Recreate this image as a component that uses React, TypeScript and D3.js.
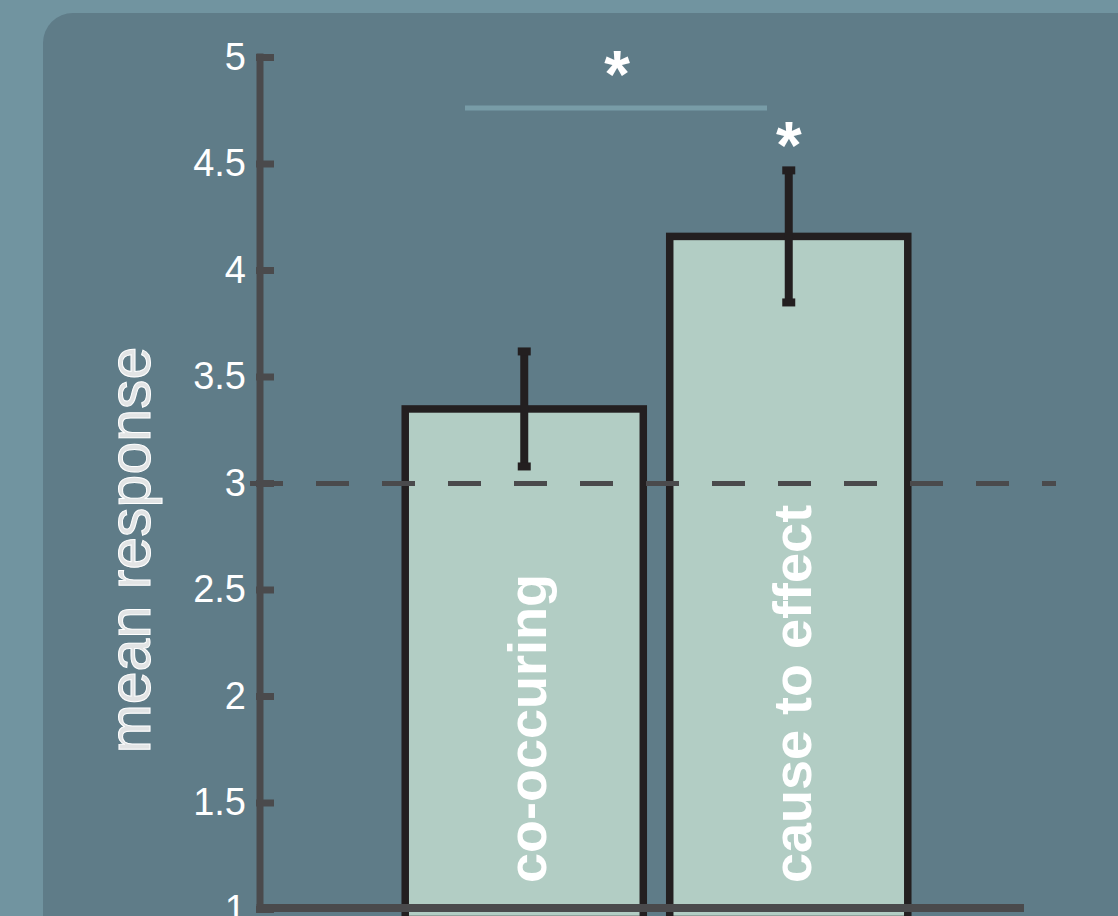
import React from "react";
import * as d3 from "d3";

// Conditions and their mean ratings with error half-widths
const categories = ["co-occuring", "cause to effect"];
const means = [3.35, 4.16];
const errors = [0.27, 0.31];
const significant = [false, true];
const yTicks = [1, 1.5, 2, 2.5, 3, 3.5, 4, 4.5, 5];
const yTickLabels = ["1", "1.5", "2", "2.5", "3", "3.5", "4", "4.5", "5"];
const baselineValue = 3;
const bracketValue = 4.763;

const W = 1118;
const H = 916;

export default function App() {
  const y = d3.scaleLinear().domain([1, 5]).range([909.5, 57.5]);
  const x = d3
    .scaleBand<string>()
    .domain(categories)
    .range([392, 921])
    .paddingInner(0.1)
    .paddingOuter(0.05);

  const axisX = 260;
  const font = "'Liberation Sans', Helvetica, Arial, sans-serif";
  const barStroke = "#231f20";
  const axisColor = "#4a4a4c";
  const bw = x.bandwidth();

  return (
    <svg
      width={W}
      height={H}
      style={{ position: "absolute", left: 0, top: 0, display: "block" }}
    >
      <rect x={0} y={0} width={W} height={H} fill="#7194a0" />
      <rect x={43} y={13} width={W + 100} height={H + 100} rx={30} ry={30} fill="#5f7c88" />

      {/* bars */}
      {categories.map((c, i) => {
        const x0 = x(c) as number;
        return (
          <rect
            key={c}
            x={x0}
            y={y(means[i])}
            width={bw}
            height={y(1) - y(means[i]) + 10}
            fill="#b2cdc4"
            stroke={barStroke}
            strokeWidth={7.5}
          />
        );
      })}

      {/* bar labels */}
      {categories.map((c, i) => {
        const cx = (x(c) as number) + bw / 2 + 22;
        const cy = 883;
        return (
          <text
            key={c + "-label"}
            transform={`translate(${cx},${cy}) rotate(-90)`}
            fill="#ffffff"
            fontFamily={font}
            fontWeight="bold"
            fontSize={54}
            textAnchor="start"
          >
            {c}
          </text>
        );
      })}

      {/* reference line at the scale midpoint */}
      <line
        x1={250}
        x2={1056}
        y1={y(baselineValue)}
        y2={y(baselineValue)}
        stroke={axisColor}
        strokeWidth={5}
        strokeDasharray="33,33"
      />

      {/* error bars */}
      {categories.map((c, i) => {
        const cx = (x(c) as number) + bw / 2;
        const top = y(means[i] + errors[i]);
        const bot = y(means[i] - errors[i]);
        return (
          <g key={c + "-err"} stroke={barStroke}>
            <line x1={cx} x2={cx} y1={top} y2={bot} strokeWidth={8} />
            <line x1={cx - 6.5} x2={cx + 6.5} y1={top} y2={top} strokeWidth={8} />
            <line x1={cx - 6.5} x2={cx + 6.5} y1={bot} y2={bot} strokeWidth={8} />
          </g>
        );
      })}

      {/* significance markers */}
      {categories.map((c, i) =>
        significant[i] ? (
          <text
            key={c + "-sig"}
            x={(x(c) as number) + bw / 2}
            y={y(means[i] + errors[i]) - 2}
            fill="#ffffff"
            fontFamily={font}
            fontWeight="bold"
            fontSize={66}
            textAnchor="middle"
          >
            *
          </text>
        ) : null
      )}
      <line
        x1={465}
        x2={767}
        y1={y(bracketValue)}
        y2={y(bracketValue)}
        stroke="#789ca7"
        strokeWidth={5}
      />
      <text
        x={(465 + 767) / 2 + 1}
        y={y(bracketValue) - 11}
        fill="#ffffff"
        fontFamily={font}
        fontWeight="bold"
        fontSize={66}
        textAnchor="middle"
      >
        *
      </text>

      {/* y axis */}
      <line x1={axisX} x2={axisX} y1={y(5) - 4} y2={y(1) + 3} stroke={axisColor} strokeWidth={7} />
      {yTicks.map((t, i) => (
        <g key={t}>
          <line x1={axisX - 4} x2={274} y1={y(t)} y2={y(t)} stroke={axisColor} strokeWidth={7} />
          <text
            x={246}
            y={y(t) + 12}
            fill="#ffffff"
            fontFamily={font}
            fontSize={38}
            textAnchor="end"
          >
            {yTickLabels[i]}
          </text>
        </g>
      ))}

      {/* x axis */}
      <line x1={axisX - 3.5} x2={1024} y1={908} y2={908} stroke={axisColor} strokeWidth={8} />

      {/* y axis title */}
      <text
        transform={`translate(150,550) rotate(-90)`}
        fill="#e2e4e5"
        stroke="#ffffff"
        strokeWidth={1}
        fontFamily={font}
        fontSize={59}
        textAnchor="middle"
      >
        mean response
      </text>
    </svg>
  );
}
